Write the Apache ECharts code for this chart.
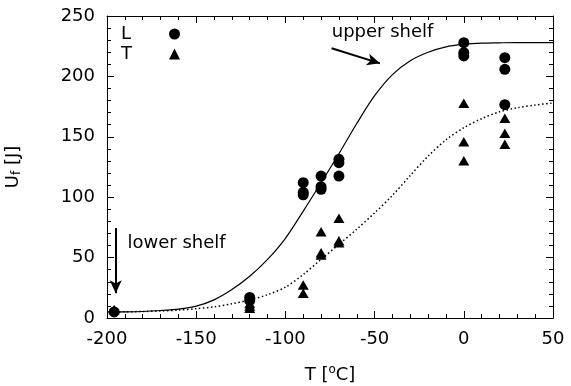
<!DOCTYPE html>
<html><head><meta charset="utf-8">
<script src="https://cdn.jsdelivr.net/npm/echarts@6/dist/echarts.min.js"></script>
<style>html,body{margin:0;padding:0;background:#fff}#c{width:571px;height:386px}</style>
</head><body><div id="c"></div>
<script>
// Data
const lT = [-196, -120, -120, -90, -90, -90, -80, -80, -80, -70, -70, -70, 0, 0, 0, 23, 23, 23];
const lU = [5, 17, 14.5, 112, 104, 102, 117.5, 108.7, 106.5, 131.4, 128.6, 117.5, 227.9, 219.6, 216.9, 215.5, 205.9, 176.6];
const tT = [-196, -120, -120, -120, -90, -90, -80, -80, -80, -70, -70, -70, 0, 0, 0, 23, 23, 23];
const tU = [7, 12, 10, 8, 27.3, 20.4, 71.4, 54.1, 52.2, 82.5, 64, 62.3, 177.7, 146, 130.2, 165.3, 152.9, 143.8];
// Fitted curves
const curveT = [-200, -190, -180, -170, -160, -150, -140, -130, -120, -110, -100, -90, -80, -70, -60, -50, -40, -30, -20, -10, 0, 10, 20, 30, 40, 50];
const curveL = [5, 5.1, 5.4, 6.2, 7.4, 9.8, 15, 23.5, 34.5, 48.5, 66, 88.5, 112, 136, 161, 184, 201.5, 213, 220, 224.5, 226.5, 227.5, 227.8, 228, 228, 228];
const curveTr = [5, 5.1, 5.4, 5.8, 6.5, 7.7, 9.2, 11.8, 14.9, 19.3, 25.5, 36, 48.5, 61, 73.5, 87, 101.5, 118, 134, 147.5, 157.5, 165, 170.7, 174, 176.3, 178];
const xTicks = [-200, -150, -100, -50, 0, 50];
const yTicks = [0, 50, 100, 150, 200, 250];

const F = 'DejaVu Sans, sans-serif';
const pair = (xs, ys) => xs.map((x, i) => [x, ys[i]]);
const chart = echarts.init(document.getElementById('c'));
const tickCommon = () => ({
  axisLine: {show: true, onZero: false, lineStyle: {color: '#000', width: 1}},
  axisTick: {show: true, inside: true, length: 7, lineStyle: {color: '#000', width: 1}},
  minorTick: {show: true, splitNumber: 5, length: 4, lineStyle: {color: '#000', width: 1}},
  splitLine: {show: false}
});
const option = {
  animation: false,
  textStyle: {fontFamily: F},
  grid: {left: 107, right: 18, top: 16, bottom: 68, containLabel: false, outerBoundsMode: 'none'},
  legend: {
    orient: 'vertical', left: 116, top: 20, align: 'right', itemGap: 2,
    itemWidth: 11, itemHeight: 11, data: ['L', 'T'],
    formatter: n => '{a|' + n + '}',
    textStyle: {rich: {a: {fontFamily: F, fontSize: 18, width: 43, align: 'left', lineHeight: 18, color: '#000'}}}
  },
  xAxis: [
    Object.assign({type: 'value', min: xTicks[0], max: xTicks[xTicks.length - 1], interval: 50,
      name: 'T [{s|o}C]', nameLocation: 'middle', nameGap: 46,
      nameTextStyle: {fontFamily: F, fontSize: 18, color: '#000', rich: {s: {fontSize: 12, verticalAlign: 'top', padding: [0, 0, 10, 0], fontFamily: F, color: '#000'}}},
      axisLabel: {fontFamily: F, fontSize: 18, color: '#000', margin: 12}}, tickCommon()),
    Object.assign({type: 'value', position: 'top', min: xTicks[0], max: xTicks[xTicks.length - 1], interval: 50,
      axisLabel: {show: false}}, tickCommon())
  ],
  yAxis: [
    Object.assign({type: 'value', min: yTicks[0], max: yTicks[yTicks.length - 1], interval: 50,
      name: 'U{b|f} [J]', nameLocation: 'middle', nameGap: 84, nameRotate: 90,
      nameTextStyle: {fontFamily: F, fontSize: 18, color: '#000', rich: {b: {fontSize: 12, verticalAlign: 'bottom', padding: [8, 0, 0, 0], fontFamily: F, color: '#000'}}},
      axisLabel: {fontFamily: F, fontSize: 18, color: '#000', margin: 12}}, tickCommon()),
    Object.assign({type: 'value', position: 'right', min: yTicks[0], max: yTicks[yTicks.length - 1], interval: 50,
      axisLabel: {show: false}}, tickCommon())
  ],
  series: [
    {name: 'fitL', type: 'line', data: pair(curveT, curveL), smooth: 0.3, showSymbol: false, symbol: 'none',
      lineStyle: {color: '#000', width: 1.2}, silent: true, z: 2,
      markLine: {silent: true, symbol: ['none', 'arrow'], symbolSize: [9, 13], label: {show: false},
        lineStyle: {color: '#000', width: 2, type: 'solid'},
        data: [[{coord: [-74.1, 223.3]}, {coord: [-47, 210.8]}], [{coord: [-195.1, 74.5]}, {coord: [-195.1, 20.5]}]]}},
    {name: 'fitT', type: 'line', data: pair(curveT, curveTr), smooth: 0.3, showSymbol: false, symbol: 'none',
      lineStyle: {color: '#000', width: 1.5, type: [1.5, 2.5]}, silent: true, z: 2},
    {name: 'T', type: 'scatter', data: pair(tT, tU), symbol: 'triangle', symbolSize: [11, 9.5],
      itemStyle: {color: '#000', opacity: 1}, z: 3},
    {name: 'L', type: 'scatter', data: pair(lT, lU), symbol: 'circle', symbolSize: 11,
      itemStyle: {color: '#000', opacity: 1}, z: 4}
  ]
};
chart.setOption(option);
const p1 = chart.convertToPixel({xAxisIndex: 0, yAxisIndex: 0}, [-74, 236.8]);
const p2 = chart.convertToPixel({xAxisIndex: 0, yAxisIndex: 0}, [-188.5, 62]);
chart.setOption({graphic: [
  {type: 'text', x: p1[0], y: p1[1], style: {text: 'upper shelf', font: '18px ' + F, fill: '#000', textVerticalAlign: 'middle'}},
  {type: 'text', x: p2[0], y: p2[1], style: {text: 'lower shelf', font: '18px ' + F, fill: '#000', textVerticalAlign: 'middle'}}
]});
</script></body></html>
